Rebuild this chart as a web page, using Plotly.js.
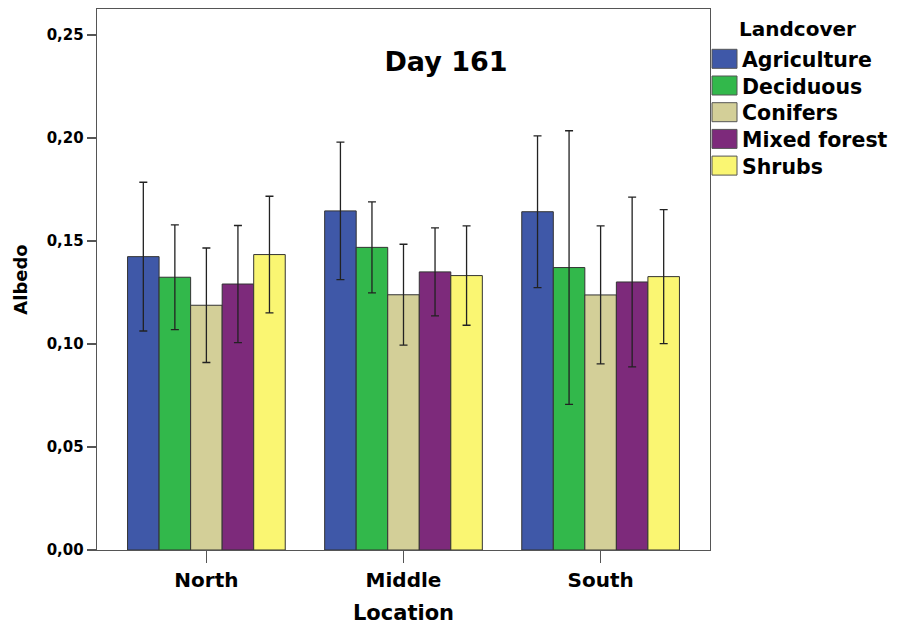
<!DOCTYPE html>
<html>
<head>
<meta charset="utf-8">
<script src="https://cdn.plot.ly/plotly-3.0.1.min.js"></script>
<style>html,body{margin:0;padding:0;background:#fff;}#chart{width:897px;height:629px;}</style>
</head>
<body>
<div id="chart"></div>
<script>
// Categories and series
const locations = ["North", "Middle", "South"];
const landcovers = ["Agriculture", "Deciduous", "Conifers", "Mixed forest", "Shrubs"];
const colors = ["#3F58A8", "#32B84B", "#D3CF98", "#7D2A7B", "#FAF672"];

// Mean albedo per landcover (North, Middle, South)
const agriculture = [0.1424, 0.1646, 0.1642];
const deciduous   = [0.1324, 0.1469, 0.1371];
const conifers    = [0.1188, 0.1239, 0.1238];
const mixedForest = [0.1291, 0.1350, 0.1301];
const shrubs      = [0.1434, 0.1332, 0.1327];

// Error bar half-widths (± value)
const agricultureErr = [0.0361, 0.0334, 0.0368];
const deciduousErr   = [0.0254, 0.0221, 0.0664];
const conifersErr    = [0.0278, 0.0245, 0.0335];
const mixedForestErr = [0.0284, 0.0214, 0.0412];
const shrubsErr      = [0.0283, 0.0241, 0.0325];

const yTicks = [0, 0.05, 0.10, 0.15, 0.20, 0.25];

const series = [agriculture, deciduous, conifers, mixedForest, shrubs];
const errs = [agricultureErr, deciduousErr, conifersErr, mixedForestErr, shrubsErr];

const FONT = "DejaVu Sans, Arial, sans-serif";

const traces = landcovers.map((name, i) => ({
  type: "bar",
  name: name,
  x: locations,
  y: series[i],
  marker: {color: colors[i], line: {color: "#333333", width: 1}},
  error_y: {type: "data", array: errs[i], visible: true, color: "#222222", thickness: 1.3, width: 4},
  showlegend: false,
  hoverinfo: "skip"
}));

// Custom legend drawn in paper coordinates
const plotTop = 9, plotBottom = 550, plotLeft = 97, plotRight = 710;
const ph = plotBottom - plotTop, pw = plotRight - plotLeft;
const px2x = px => (px - plotLeft) / pw;
const py2y = py => (plotBottom - py) / ph;

const shapes = [];
const annotations = [];
annotations.push({
  xref: "paper", yref: "paper", x: px2x(737), y: py2y(29), xanchor: "left", yanchor: "middle",
  text: "<b>Landcover</b>", showarrow: false, font: {family: FONT, size: 20, color: "#000"}
});
landcovers.forEach((name, i) => {
  const cy = 58.8 + 26.7 * i;
  shapes.push({
    type: "rect", xref: "paper", yref: "paper",
    x0: px2x(712), x1: px2x(737), y0: py2y(cy + 9.5), y1: py2y(cy - 9.5),
    fillcolor: colors[i], line: {color: "#555555", width: 1}
  });
  annotations.push({
    xref: "paper", yref: "paper", x: px2x(740), y: py2y(cy + 1), xanchor: "left", yanchor: "middle",
    text: "<b>" + name + "</b>", showarrow: false, font: {family: FONT, size: 20.5, color: "#000"}
  });
});

const layout = {
  width: 897, height: 629,
  margin: {l: plotLeft, r: 897 - plotRight, t: plotTop, b: 629 - plotBottom, pad: 0},
  paper_bgcolor: "#ffffff", plot_bgcolor: "#ffffff",
  separators: ", ",
  barmode: "group", bargap: 0.2, bargroupgap: 0,
  title: {
    text: "<b>Day 161</b>", xref: "paper", x: px2x(446), xanchor: "center",
    yref: "container", y: 1 - 62 / 629, yanchor: "middle",
    font: {family: FONT, size: 27, color: "#000"}
  },
  xaxis: {
    type: "category", range: [-0.555, 2.555],
    showline: true, linecolor: "#555555", linewidth: 1.3, mirror: true,
    ticks: "outside", ticklen: 12, tickcolor: "#555555", tickwidth: 1.3,
    tickfont: {family: FONT, size: 20, color: "#000", weight: "bold"},
    title: {text: "<b>Location</b>", font: {family: FONT, size: 21, color: "#000"}, standoff: 14},
    showgrid: false, zeroline: false, fixedrange: true
  },
  yaxis: {
    range: [0, 0.2626],
    tickvals: yTicks, tickformat: ".2f",
    showline: true, linecolor: "#555555", linewidth: 1.3, mirror: true,
    ticks: "outside", ticklen: 9, tickcolor: "#555555", tickwidth: 1.3,
    tickfont: {family: FONT, size: 15, color: "#000", weight: "bold"},
    title: {text: "<b>Albedo</b>", font: {family: FONT, size: 18, color: "#000"}, standoff: 14},
    showgrid: false, zeroline: false, fixedrange: true
  },
  shapes: shapes,
  annotations: annotations,
  showlegend: false
};

Plotly.newPlot("chart", traces, layout, {displayModeBar: false, staticPlot: true});
</script>
</body>
</html>
